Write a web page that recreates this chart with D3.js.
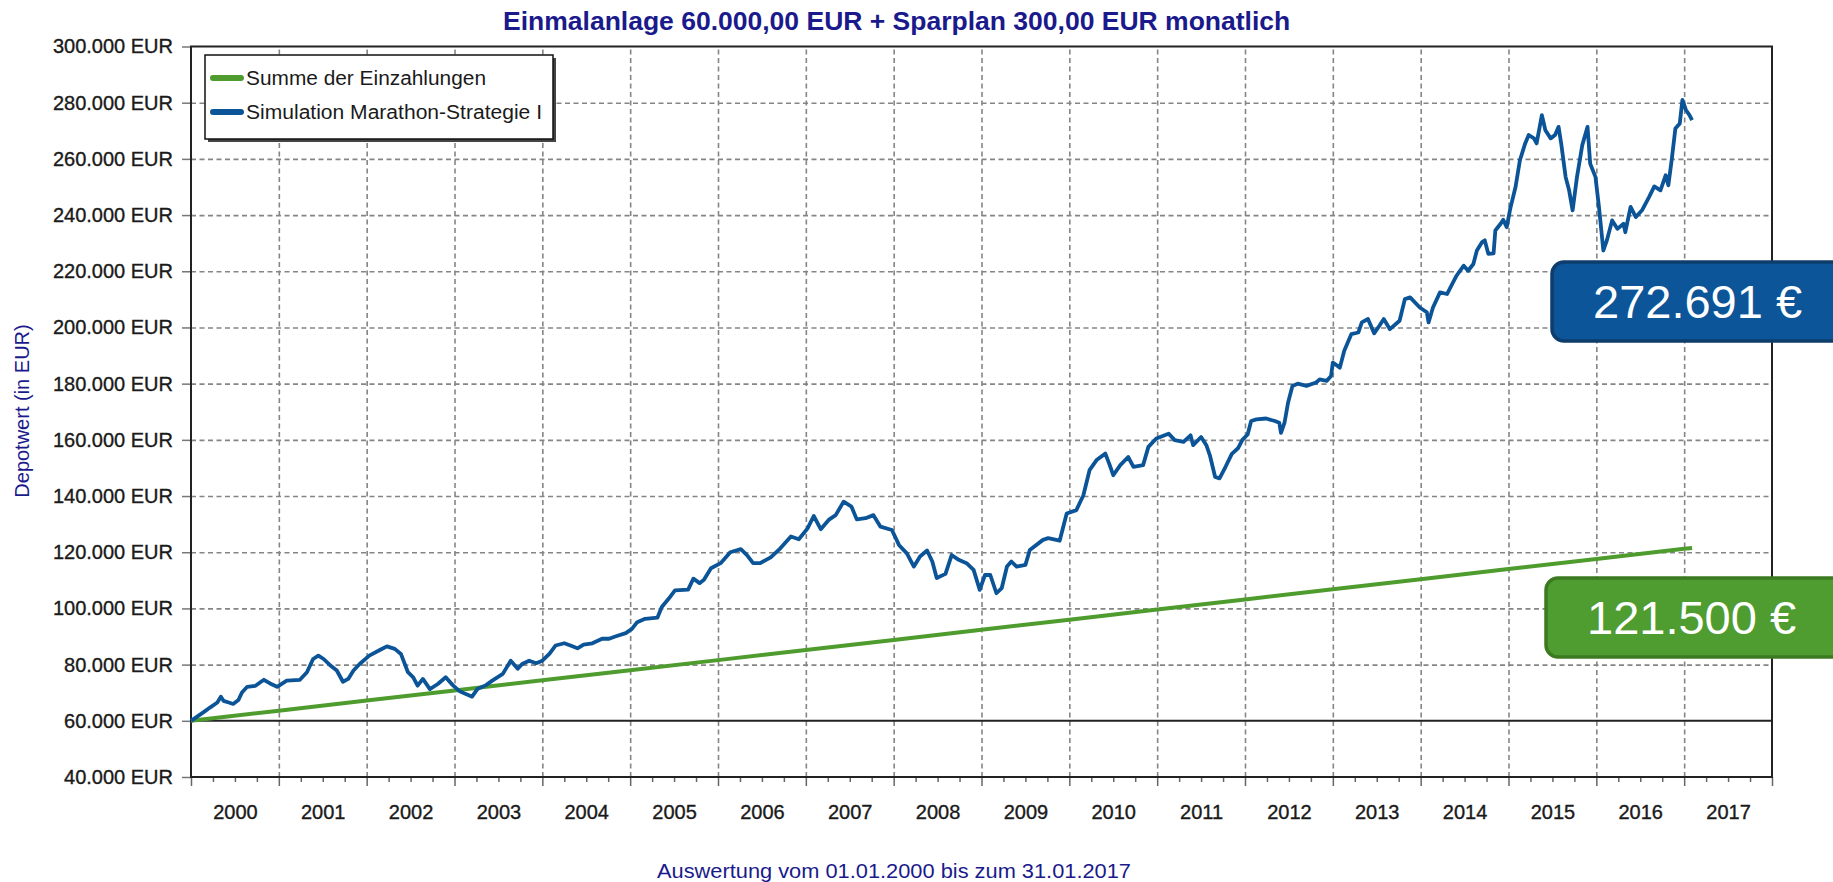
<!DOCTYPE html>
<html>
<head>
<meta charset="utf-8">
<script src="https://cdn.jsdelivr.net/npm/d3@7"></script>
<style>
  body { margin: 0; background: #fff; }
  svg { display: block; font-family: "Liberation Sans", Arial, sans-serif; }
</style>
</head>
<body>
<svg width="1833" height="882"></svg>
<script>
// values
var blueYears = [2000.00, 2000.14, 2000.22, 2000.30, 2000.34, 2000.37, 2000.43, 2000.48, 2000.54, 2000.58,
  2000.64, 2000.73, 2000.83, 2000.90, 2000.98, 2001.09, 2001.24, 2001.32, 2001.39, 2001.45,
  2001.51, 2001.58, 2001.66, 2001.73, 2001.79, 2001.85, 2001.92, 2002.03, 2002.15, 2002.23,
  2002.32, 2002.39, 2002.47, 2002.53, 2002.58, 2002.64, 2002.72, 2002.81, 2002.90, 2002.98,
  2003.06, 2003.13, 2003.20, 2003.26, 2003.36, 2003.43, 2003.55, 2003.64, 2003.72, 2003.77,
  2003.85, 2003.93, 2004.00, 2004.08, 2004.15, 2004.25, 2004.32, 2004.40, 2004.47, 2004.57,
  2004.68, 2004.76, 2004.83, 2004.95, 2005.02, 2005.08, 2005.17, 2005.31, 2005.36, 2005.44,
  2005.51, 2005.66, 2005.72, 2005.79, 2005.84, 2005.92, 2006.03, 2006.14, 2006.26, 2006.33,
  2006.40, 2006.48, 2006.60, 2006.71, 2006.83, 2006.92, 2007.02, 2007.09, 2007.17, 2007.26,
  2007.34, 2007.43, 2007.52, 2007.58, 2007.68, 2007.77, 2007.85, 2007.98, 2008.06, 2008.15,
  2008.23, 2008.30, 2008.38, 2008.44, 2008.49, 2008.59, 2008.66, 2008.74, 2008.83, 2008.91,
  2008.98, 2009.04, 2009.10, 2009.17, 2009.23, 2009.29, 2009.34, 2009.40, 2009.50, 2009.55,
  2009.70, 2009.76, 2009.89, 2009.97, 2010.08, 2010.16, 2010.23, 2010.31, 2010.41, 2010.46,
  2010.50, 2010.58, 2010.67, 2010.73, 2010.84, 2010.90, 2010.99, 2011.13, 2011.20, 2011.30,
  2011.38, 2011.41, 2011.50, 2011.56, 2011.60, 2011.66, 2011.71, 2011.78, 2011.85, 2011.92,
  2011.97, 2012.03, 2012.07, 2012.13, 2012.24, 2012.34, 2012.39, 2012.41, 2012.45, 2012.49,
  2012.54, 2012.60, 2012.70, 2012.81, 2012.85, 2012.93, 2012.98, 2013.00, 2013.08, 2013.13,
  2013.21, 2013.29, 2013.33, 2013.40, 2013.47, 2013.53, 2013.58, 2013.65, 2013.76, 2013.82,
  2013.88, 2013.99, 2014.07, 2014.09, 2014.14, 2014.22, 2014.30, 2014.37, 2014.41, 2014.49,
  2014.54, 2014.60, 2014.64, 2014.70, 2014.73, 2014.77, 2014.83, 2014.85, 2014.91, 2014.94,
  2014.98, 2015.02, 2015.08, 2015.13, 2015.19, 2015.23, 2015.29, 2015.32, 2015.38, 2015.42,
  2015.48, 2015.53, 2015.57, 2015.60, 2015.65, 2015.69, 2015.73, 2015.78, 2015.84, 2015.90,
  2015.93, 2015.99, 2016.03, 2016.08, 2016.12, 2016.18, 2016.24, 2016.31, 2016.33, 2016.39,
  2016.45, 2016.52, 2016.60, 2016.66, 2016.73, 2016.79, 2016.82, 2016.86, 2016.90, 2016.95,
  2016.98, 2017.02, 2017.06, 2017.09];
var blueValues = [60000, 63000, 64800, 66500, 68600, 67100, 66500, 66000, 67400, 70100,
  72100, 72400, 74600, 73300, 72100, 74300, 74600, 77300, 82000, 83200,
  82000, 79900, 77900, 73900, 74900, 77900, 80200, 83200, 85200, 86500,
  85600, 83800, 77300, 75500, 72500, 74900, 71300, 73100, 75500, 72700,
  70500, 69500, 68600, 71300, 72700, 74300, 76700, 81400, 78500, 80200,
  81400, 80500, 81400, 83800, 86800, 87600, 86800, 85800, 87100, 87600,
  89200, 89200, 90000, 91200, 92700, 95100, 96300, 96700, 100500, 103500,
  106400, 106700, 110600, 109000, 110200, 114300, 116100, 120000, 121100, 119000,
  116100, 116100, 118200, 121400, 125600, 124600, 128500, 132900, 128200, 131500,
  133200, 138000, 136200, 131700, 132100, 133200, 129100, 127900, 122600, 119600,
  114900, 118500, 120600, 116700, 110800, 112300, 119000, 117300, 116100, 113700,
  106600, 111900, 111900, 105400, 107200, 114900, 116700, 114900, 115500, 120800,
  124400, 125000, 124100, 133800, 135000, 140300, 149200, 152800, 155100, 151000,
  147400, 151000, 153900, 150400, 151000, 157500, 160500, 162200, 159900, 159300,
  161600, 158100, 161000, 158100, 154500, 146800, 146300, 150500, 155000, 157000,
  160000, 161900, 166700, 167300, 167600, 166700, 166100, 162500, 166100, 173200,
  179200, 180000, 179200, 180400, 181500, 181000, 182700, 187500, 185700, 191700,
  197600, 198200, 201800, 203000, 197900, 200600, 203000, 199400, 202400, 210100,
  210700, 207100, 205400, 201800, 207100, 212500, 211900, 216100, 218500, 222000,
  220200, 222600, 227400, 230400, 231000, 226200, 226400, 234500, 236900, 238300,
  235700, 242300, 250000, 259500, 265500, 268500, 267300, 265500, 275600, 270200,
  267300, 268500, 271400, 265500, 253600, 248800, 241700, 253600, 264900, 271400,
  258300, 253600, 242900, 227400, 231000, 238100, 235100, 236900, 233900, 242900,
  239300, 241700, 246400, 250200, 248800, 254200, 250600, 260100, 270800, 272600,
  281000, 277400, 275600, 273800];

var greenYears = [2000, 2001, 2002, 2003, 2004, 2005, 2006, 2007, 2008, 2009,
  2010, 2011, 2012, 2013, 2014, 2015, 2016, 2017, 2017.09];
var greenValues = [60000, 63600, 67200, 70800, 74400, 78000, 81600, 85200, 88800, 92400,
  96000, 99600, 103200, 106800, 110400, 114000, 117600, 121200, 121500];

var yTicks = [40000, 60000, 80000, 100000, 120000, 140000, 160000, 180000, 200000,
  220000, 240000, 260000, 280000, 300000];
var yearLabels = [2000, 2001, 2002, 2003, 2004, 2005, 2006, 2007, 2008, 2009,
  2010, 2011, 2012, 2013, 2014, 2015, 2016, 2017];
var seriesNames = ["Summe der Einzahlungen", "Simulation Marathon-Strategie I"];
var badgeTexts = ["272.691 €", "121.500 €"];

var svg = d3.select("svg");
var plotLeft = 191, plotRight = 1772, plotTop = 46.5, plotBottom = 777;
var navy = "#1a1a8c";
var blue = "#0b5497";
var green = "#4e9c2e";

var x = d3.scaleLinear().domain([2000, 2018]).range([plotLeft, plotRight]);
var y = d3.scaleLinear().domain([40000, 300000]).range([plotBottom, plotTop]);

var de = d3.formatLocale({decimal: ",", thousands: ".", grouping: [3], currency: ["", " €"]});
var fmt = de.format(",.0f");

// title
svg.append("text")
  .attr("x", 503).attr("y", 30)
  .attr("font-size", 26.5).attr("font-weight", "bold")
  .attr("fill", navy)
  .text("Einmalanlage 60.000,00 EUR + Sparplan 300,00 EUR monatlich");

// dashed grid
var gridY = svg.append("g").attr("transform", "translate(" + plotLeft + ",0)")
  .call(d3.axisLeft(y).tickValues(yTicks.filter(function(d){ return d > 60000 && d < 300000; }))
    .tickSize(-(plotRight - plotLeft)).tickFormat(""));
var yearStarts = yearLabels.slice(1);
var gridX = svg.append("g").attr("transform", "translate(0," + plotBottom + ")")
  .call(d3.axisBottom(x).tickValues(yearStarts).tickSize(-(plotBottom - plotTop)).tickFormat(""));
[gridY, gridX].forEach(function(g){
  g.select(".domain").remove();
  g.selectAll("line").attr("stroke", "#858585").attr("stroke-width", 1.6)
    .attr("stroke-dasharray", "5,3.5");
});

// y axis ticks and labels
var yAxis = svg.append("g").attr("transform", "translate(" + plotLeft + ",0)")
  .call(d3.axisLeft(y).tickValues(yTicks).tickSize(9).tickPadding(9)
    .tickFormat(function(d){ return fmt(d) + " EUR"; }));
yAxis.select(".domain").remove();
yAxis.selectAll("line").attr("stroke", "#777").attr("stroke-width", 1.5);
yAxis.selectAll("text").attr("font-size", 20).attr("fill", "#1a1a1a")
  .attr("stroke", "#1a1a1a").attr("stroke-width", 0.35)
  .attr("font-family", "'Liberation Sans', Arial, sans-serif");

// x axis: quarter ticks, year ticks, year labels
var quarters = d3.range(0, 72).map(function(i){ return 2000 + i * 0.25; })
  .filter(function(d){ return d % 1 !== 0; });
var minor = svg.append("g").attr("transform", "translate(0," + plotBottom + ")")
  .call(d3.axisBottom(x).tickValues(quarters).tickSize(5).tickFormat(""));
var major = svg.append("g").attr("transform", "translate(0," + plotBottom + ")")
  .call(d3.axisBottom(x).tickValues(yearLabels.concat([2018])).tickSize(9).tickFormat(""));
[minor, major].forEach(function(g){
  g.select(".domain").remove();
  g.selectAll("line").attr("stroke", "#666").attr("stroke-width", 1.5);
});
var labels = svg.append("g").attr("transform", "translate(0," + plotBottom + ")")
  .call(d3.axisBottom(x).tickValues(yearLabels.map(function(d){ return d + 0.5; }))
    .tickSize(0).tickPadding(28).tickFormat(function(d){ return Math.floor(d); }));
labels.select(".domain").remove();
labels.selectAll("text").attr("font-size", 20).attr("fill", "#1a1a1a")
  .attr("stroke", "#1a1a1a").attr("stroke-width", 0.35)
  .attr("font-family", "'Liberation Sans', Arial, sans-serif");

// baseline at 60.000 and frame
svg.append("line")
  .attr("x1", plotLeft).attr("x2", plotRight)
  .attr("y1", y(60000)).attr("y2", y(60000))
  .attr("stroke", "#222").attr("stroke-width", 2);
svg.append("rect")
  .attr("x", plotLeft).attr("y", plotTop)
  .attr("width", plotRight - plotLeft).attr("height", plotBottom - plotTop)
  .attr("fill", "none").attr("stroke", "#222").attr("stroke-width", 2);

// series
var line = d3.line()
  .x(function(d){ return x(d[0]); })
  .y(function(d){ return y(d[1]); });
svg.append("path")
  .datum(d3.zip(greenYears, greenValues))
  .attr("d", line).attr("fill", "none")
  .attr("stroke", green).attr("stroke-width", 4);
svg.append("path")
  .datum(d3.zip(blueYears, blueValues))
  .attr("d", line).attr("fill", "none")
  .attr("stroke", blue).attr("stroke-width", 3.8)
  .attr("stroke-linejoin", "round");

// legend
var lg = svg.append("g");
lg.append("rect").attr("x", 208).attr("y", 58).attr("width", 348).attr("height", 84)
  .attr("fill", "#444");
lg.append("rect").attr("x", 205).attr("y", 55).attr("width", 348).attr("height", 84)
  .attr("fill", "#fff").attr("stroke", "#111").attr("stroke-width", 1.5);
var legendColors = [green, blue];
seriesNames.forEach(function(name, i){
  var cy = 78 + i * 34;
  lg.append("line").attr("x1", 213).attr("x2", 241).attr("y1", cy).attr("y2", cy)
    .attr("stroke", legendColors[i]).attr("stroke-width", 6).attr("stroke-linecap", "round");
  lg.append("text").attr("x", 246).attr("y", cy + 7)
    .attr("font-size", 19.5).attr("fill", "#1a1a1a")
    .attr("textLength", i === 0 ? 240 : 296).attr("lengthAdjust", "spacingAndGlyphs")
    .text(name);
});

// axis titles
svg.append("text")
  .attr("transform", "translate(29,411) rotate(-90)")
  .attr("text-anchor", "middle")
  .attr("font-size", 20).attr("fill", navy)
  .text("Depotwert (in EUR)");
svg.append("text")
  .attr("x", 657).attr("y", 878)
  .attr("font-size", 19.5).attr("fill", navy)
  .attr("textLength", 474).attr("lengthAdjust", "spacingAndGlyphs")
  .text("Auswertung vom 01.01.2000 bis zum 31.01.2017");

// value badges
var badges = [
  {text: badgeTexts[0], top: 262, left: 1552, fill: "#0b5598", stroke: "#0e3d6c"},
  {text: badgeTexts[1], top: 578, left: 1546, fill: "#4f9c30", stroke: "#3c7a22"}
];
badges.forEach(function(b){
  svg.append("rect")
    .attr("x", b.left).attr("y", b.top)
    .attr("width", 320).attr("height", 79)
    .attr("rx", 12).attr("ry", 12)
    .attr("fill", b.fill).attr("stroke", b.stroke).attr("stroke-width", 3.5);
  svg.append("text")
    .attr("x", b.left + 41).attr("y", b.top + 56)
    .attr("font-size", 47).attr("fill", "#fff")
    .text(b.text);
});
</script>
</body>
</html>
